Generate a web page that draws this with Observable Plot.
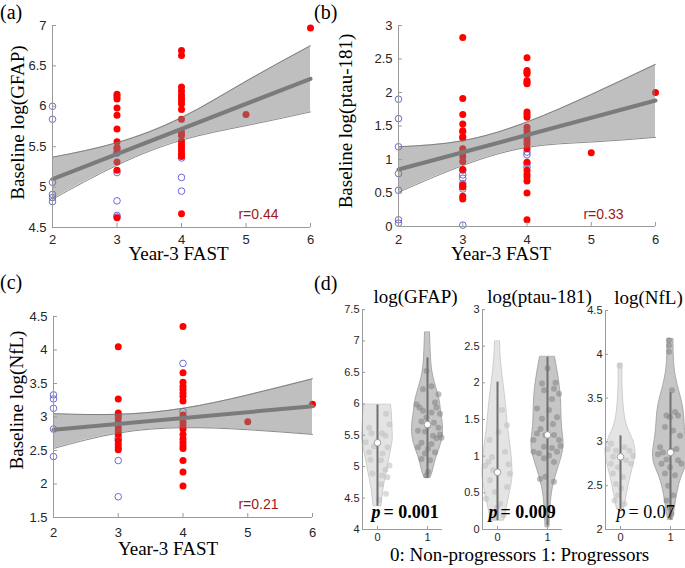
<!DOCTYPE html>
<html><head><meta charset="utf-8">
<script src="https://cdn.jsdelivr.net/npm/d3@7"></script>
<script src="https://cdn.jsdelivr.net/npm/@observablehq/plot@0.6"></script>
<style>
html,body{margin:0;padding:0;background:#fff}
#root{position:relative;width:685px;height:568px;overflow:hidden;background:#fff}
#root svg{position:absolute}
.lbl{position:absolute;font-family:"Liberation Serif",serif;color:#000;white-space:nowrap;line-height:1}
</style></head><body><div id="root"></div>
<script>
// ---------- shared ----------
const fastTicks = [2, 3, 4, 5, 6];
const fastDomain = [2, 6];
const xLabel = "Year-3 FAST";
const bandX = [2, 3, 4, 5, 6];
const fitX = [2, 6];

// ---------- (a) GFAP ----------
const gfapNon2 = [6.0, 5.84, 5.06, 4.91, 4.87, 4.82];
const gfapNon3 = [5.42, 5.18, 4.83, 4.65, 4.63];
const gfapNon4 = [5.36, 5.12, 4.95];
const gfapProg3 = [6.15, 6.12, 6.09, 5.98, 5.89, 5.72, 5.56, 5.49, 5.47, 5.43, 5.31, 5.21, 4.62];
const gfapProg4 = [6.69, 6.63, 6.24, 6.19, 6.14, 6.10, 6.07, 6.03, 5.96, 5.84, 5.68, 5.64, 5.57, 5.53, 5.49, 5.45, 5.41, 5.38, 4.67];
const gfapProg5 = [5.9];
const gfapProg6 = [6.97];
const gfapFit = [5.10, 6.34];
const gfapBandLo = [4.85, 5.27, 5.58, 5.76, 5.93];
const gfapBandHi = [5.37, 5.55, 5.86, 6.31, 6.75];
const gfapYTicks = [4.5, 5, 5.5, 6, 6.5, 7];

// ---------- (b) ptau-181 ----------
const ptauNon2 = [1.90, 1.61, 1.19, 0.79, 0.54, 0.10, 0.05];
const ptauNon3 = [1.41, 0.84, 0.77, 0.72, 0.64, 0.60, 0.56, 0.02];
const ptauNon4 = [1.11, 1.07, 0.94, 0.89];
const ptauProg3 = [2.82, 1.91, 1.67, 1.53, 1.43, 1.34, 1.32, 1.16, 1.11, 1.04, 0.97, 0.85, 0.62, 0.59, 0.45, 0.41];
const ptauProg4 = [2.52, 2.33, 2.30, 2.28, 2.18, 2.15, 2.13, 1.71, 1.67, 1.63, 1.48, 1.43, 1.38, 1.33, 1.28, 1.23, 1.16, 0.96, 0.84, 0.78, 0.74, 0.68, 0.50, 0.10];
const ptauProg5 = [1.1];
const ptauProg6 = [2.0];
const ptauFit = [0.85, 1.88];
const ptauBandLo = [0.51, 0.91, 1.18, 1.26, 1.33];
const ptauBandHi = [1.19, 1.28, 1.56, 1.97, 2.42];
const ptauYTicks = [0, 0.5, 1, 1.5, 2, 2.5, 3];

// ---------- (c) NfL ----------
const nflNon2 = [3.33, 3.27, 3.13, 2.82, 2.41];
const nflNon3 = [2.69, 2.66, 2.35, 1.81];
const nflNon4 = [3.80, 3.08];
const nflProg3 = [4.05, 3.27, 3.06, 3.02, 2.98, 2.92, 2.84, 2.79, 2.74, 2.64, 2.59, 2.54, 2.51];
const nflProg4 = [4.35, 3.66, 3.52, 3.46, 3.41, 3.36, 3.31, 3.24, 3.03, 2.92, 2.87, 2.82, 2.74, 2.67, 2.62, 2.57, 2.53, 2.35, 2.18, 1.97];
const nflProg5 = [2.93];
const nflProg6 = [3.19];
const nflFit = [2.81, 3.16];
const nflBandLo = [2.53, 2.76, 2.84, 2.81, 2.74];
const nflBandHi = [3.05, 3.04, 3.13, 3.33, 3.57];
const nflYTicks = [1.5, 2, 2.5, 3, 3.5, 4, 4.5];

// ---------- (d) violins ----------
const groupTicks = [0, 1];
const groupDomain = [-0.3, 1.3];
const gfapV0Y = [5.98, 5.8, 5.6, 5.4, 5.15, 4.9, 4.65, 4.37];
const gfapV0W = [0.27, 0.29, 0.30, 0.30, 0.24, 0.18, 0.12, 0.08];
const gfapV1Y = [7.13, 6.73, 6.42, 6.10, 5.89, 5.62, 5.36, 5.15, 4.94, 4.82];
const gfapV1W = [0.05, 0.07, 0.12, 0.23, 0.27, 0.31, 0.27, 0.18, 0.11, 0.06];
const gfapD0 = [5.84, 5.67, 5.62, 5.53, 5.53, 5.49, 5.39, 5.32, 5.31, 5.23, 5.21, 5.11, 5.10, 5.02, 4.95, 4.89, 4.86, 4.83, 4.72, 4.57, 4.47];
const gfapJ0 = [0.17, 0.24, -0.17, -0.12, 0.09, 0.16, -0.24, -0.07, 0.20, -0.17, 0.10, -0.14, 0.07, 0.24, 0.16, -0.10, 0.09, 0.20, 0.07, 0.17, 0.03];
const gfapD1 = [6.52, 6.28, 6.23, 6.15, 5.99, 6.02, 5.94, 5.94, 5.89, 5.86, 5.84, 5.78, 5.72, 5.70, 5.65, 5.62, 5.57, 5.56, 5.51, 5.49, 5.46, 5.45, 5.38, 5.36, 5.31, 5.28, 5.23, 5.21, 5.12, 5.10, 4.92, 4.86];
const gfapJ1 = [-0.02, 0.08, -0.09, 0.22, -0.22, 0.15, -0.16, 0.18, -0.09, 0.08, 0.25, -0.02, -0.12, 0.13, 0.01, 0.22, -0.19, -0.05, 0.25, 0.11, 0.28, 0.18, -0.12, 0.08, -0.19, 0.01, 0.15, -0.05, -0.12, 0.05, 0.01, -0.02];
const gfapStats = {med: [5.38, 5.67], lo: [4.37, 4.82], hi: [5.98, 6.73]};

const ptauV0Y = [2.56, 2.22, 1.76, 1.40, 1.08, 0.78, 0.58, 0.35, 0.12];
const ptauV0W = [0.05, 0.08, 0.16, 0.21, 0.27, 0.30, 0.27, 0.20, 0.13];
const ptauV1Y = [2.35, 2.08, 1.76, 1.40, 1.13, 0.85, 0.58, 0.31, 0.03];
const ptauV1W = [0.15, 0.22, 0.27, 0.29, 0.32, 0.22, 0.11, 0.06, 0.04];
const ptauD0 = [1.63, 1.42, 1.33, 1.22, 1.06, 0.99, 0.92, 0.87, 0.89, 0.81, 0.76, 0.67, 0.58, 0.51, 0.42, 0.35, 0.30, 0.19, 0.17];
const ptauJ0 = [0.09, 0.19, 0.02, -0.16, 0.15, -0.11, -0.18, -0.25, 0.22, -0.09, 0.25, -0.15, 0.19, -0.05, -0.23, 0.05, -0.01, 0.12, -0.08];
const ptauD1 = [2.20, 1.99, 2.00, 1.92, 1.90, 1.85, 1.78, 1.65, 1.63, 1.53, 1.51, 1.44, 1.37, 1.31, 1.29, 1.29, 1.22, 1.22, 1.13, 1.11, 1.14, 1.06, 1.04, 1.01, 1.06, 0.97, 0.92, 0.72, 0.69, 0.65];
const ptauJ1 = [0.0, -0.11, 0.16, 0.13, -0.07, 0.23, 0.09, -0.21, 0.03, 0.19, -0.11, 0.11, -0.14, -0.21, -0.04, 0.13, 0.23, -0.28, -0.07, 0.09, 0.26, -0.28, -0.17, 0.03, 0.19, -0.07, 0.13, -0.04, -0.15, 0.13];
const ptauStats = {med: [0.78, 1.29], lo: [0.12, 0.05], hi: [2.01, 2.35]};

const nflV0Y = [3.89, 3.63, 3.28, 3.09, 2.94, 2.79, 2.60, 2.41, 2.23];
const nflV0W = [0.04, 0.04, 0.09, 0.20, 0.29, 0.28, 0.20, 0.13, 0.07];
const nflV1Y = [4.17, 3.85, 3.59, 3.36, 3.09, 2.83, 2.64, 2.45, 2.22, 2.11];
const nflV1W = [0.06, 0.08, 0.17, 0.26, 0.30, 0.35, 0.25, 0.15, 0.08, 0.05];
const nflD0 = [3.87, 2.98, 2.92, 2.90, 2.94, 2.90, 2.84, 2.83, 2.79, 2.75, 2.71, 2.75, 2.64, 2.60, 2.52, 2.47, 2.39, 2.33, 2.29];
const nflJ0 = [-0.02, -0.19, -0.26, -0.09, 0.08, 0.18, 0.25, -0.15, 0.11, -0.19, -0.05, 0.21, -0.15, 0.05, -0.09, 0.01, -0.05, -0.12, 0.08];
const nflD1 = [4.16, 4.10, 4.03, 3.59, 3.34, 3.30, 3.28, 3.30, 3.17, 3.13, 3.07, 2.94, 2.88, 2.90, 2.92, 2.86, 2.80, 2.79, 2.75, 2.75, 2.71, 2.64, 2.62, 2.50, 2.39, 2.33, 2.24, 2.18];
const nflJ1 = [-0.03, -0.03, -0.03, 0.03, 0.09, -0.08, -0.01, 0.15, -0.11, 0.05, 0.19, -0.21, -0.15, 0.02, 0.12, -0.25, -0.08, 0.15, -0.18, 0.22, -0.01, -0.11, 0.09, -0.05, 0.05, -0.08, -0.01, 0.02];
const nflStats = {med: [2.83, 2.88], lo: [2.23, 2.11], hi: [3.07, 3.56]};

const violinTitles = ["log(GFAP)", "log(ptau-181)", "log(NfL)"];
const pValues = ["0.001", "0.009", "0.07"];
const pBold = [true, true, false];
const caption = "0: Non-progressors 1: Progressors";
const panelLetters = ["(a)", "(b)", "(c)", "(d)"];

// ---------- helpers ----------
const root = document.getElementById("root");
const AX = "#9a9a9a", TXT = "#262626";
const fmt = d => String(d);

function place(el, left, top) {
  el.style.left = left + "px"; el.style.top = top + "px";
  root.appendChild(el);
}
function pts(groups) {
  return groups.flatMap(([fast, vals]) => vals.map(v => ({fast, v})));
}

function scatter(o) {
  const band = bandX.map((x, i) => ({x, lo: o.lo[i], hi: o.hi[i]}));
  const fit = fitX.map((x, i) => ({x, y: o.fit[i]}));
  const chart = Plot.plot({
    width: o.width, height: o.height,
    marginLeft: o.m[0], marginRight: o.m[1], marginTop: o.m[2], marginBottom: o.m[3],
    x: {domain: fastDomain},
    y: {domain: o.yDomain},
    style: {fontFamily: "Liberation Sans", fontSize: "13px", color: TXT, background: "transparent", overflow: "visible"},
    marks: [
      Plot.dot(pts(o.non), {x: "fast", y: "v", r: 3.3, fill: "none", stroke: "#5b5bcf", strokeWidth: 0.9}),
      Plot.dot(pts(o.prog), {x: "fast", y: "v", r: 3.5, fill: "#ff0000"}),
      Plot.areaY(band, {x: "x", y1: "lo", y2: "hi", fill: "#808080", fillOpacity: 0.5, curve: "natural"}),
      Plot.line(band, {x: "x", y: "hi", stroke: "#6e6e6e", strokeWidth: 0.8, curve: "natural"}),
      Plot.line(band, {x: "x", y: "lo", stroke: "#6e6e6e", strokeWidth: 0.8, curve: "natural"}),
      Plot.line(fit, {x: "x", y: "y", stroke: "#7b7b7b", strokeWidth: 4}),
      Plot.ruleX([fastDomain[0]], {stroke: AX}),
      Plot.ruleY([o.yDomain[0]], {stroke: AX}),
      Plot.axisX(fastTicks, {tickSize: -4, tickPadding: o.xPad, stroke: AX, fill: TXT, label: null, tickFormat: fmt}),
      Plot.axisY(o.yTicks, {tickSize: -4, tickPadding: 10, stroke: AX, fill: TXT, label: null, tickFormat: fmt}),
      Plot.text([xLabel], {text: d => d, frameAnchor: "bottom", dx: o.xl[0], dy: o.xl[1], fontFamily: "Liberation Serif", fontSize: 19, fill: "#000"}),
      Plot.text([o.ylabel], {text: d => d, frameAnchor: "left", textAnchor: "middle", rotate: -90, dx: o.yl[0], dy: o.yl[1], fontFamily: "Liberation Serif", fontSize: 19, fill: "#000"}),
      Plot.text([o.r], {text: d => d, frameAnchor: "bottom-right", textAnchor: "end", dx: o.rp[0], dy: o.rp[1], fontSize: 14, fill: "#a01818"})
    ]
  });
  place(chart, o.left, o.top);
}

function violin(o) {
  const shape = (Y, W, g) => Y.map((y, i) => ({y, x1: g - W[i], x2: g + W[i]}));
  const dots = (D, J, g) => D.map((v, i) => ({v, x: g + J[i]}));
  const stats = groupTicks.map((g, i) => ({g, med: o.stats.med[i], lo: o.stats.lo[i], hi: o.stats.hi[i]}));
  const chart = Plot.plot({
    width: o.width, height: 283,
    marginLeft: 32, marginRight: o.width - 112, marginTop: o.mt, marginBottom: 39,
    x: {domain: groupDomain},
    y: {domain: o.yDomain},
    style: {fontFamily: "Liberation Sans", fontSize: "11px", color: TXT, background: "transparent", overflow: "visible"},
    marks: [
      Plot.areaX(shape(o.v0y, o.v0w, 0), {y: "y", x1: "x1", x2: "x2", fill: "#e4e4e4", stroke: "#c4c4c4", strokeWidth: 0.8, curve: "natural"}),
      Plot.areaX(shape(o.v1y, o.v1w, 1), {y: "y", x1: "x1", x2: "x2", fill: "#c6c6c6", stroke: "#9c9c9c", strokeWidth: 0.8, curve: "natural"}),
      Plot.dot(dots(o.d0, o.j0, 0), {x: "x", y: "v", r: 3, fill: "#c2c2c2", fillOpacity: 0.6}),
      Plot.dot(dots(o.d1, o.j1, 1), {x: "x", y: "v", r: 3, fill: "#7c7c7c", fillOpacity: 0.5}),
      Plot.ruleX(stats, {x: "g", y1: "lo", y2: "hi", stroke: "#707070", strokeWidth: 2}),
      Plot.dot(stats, {x: "g", y: "med", r: 3.3, fill: "#fff", stroke: "#8a8a8a", strokeWidth: 0.8}),
      Plot.ruleX([groupDomain[0]], {stroke: AX}),
      Plot.ruleY([o.yDomain[0]], {stroke: AX}),
      Plot.axisX(groupTicks, {tickSize: -3, tickPadding: 7, stroke: AX, fill: TXT, label: null, tickFormat: fmt}),
      Plot.axisY(o.yTicks, {tickSize: -3, tickPadding: 6, stroke: AX, fill: TXT, label: null, tickFormat: fmt}),
      Plot.text([o.title], {text: d => d, frameAnchor: "top", dx: o.tdx, dy: -20, fontFamily: "Liberation Serif", fontSize: 19, fill: "#000"}),
      Plot.text(["p"], {text: d => d, frameAnchor: "bottom-left", textAnchor: "end", dx: o.pdx, dy: -12, fontFamily: "Liberation Serif", fontSize: 18, fontStyle: "italic", fontWeight: o.bold ? "bold" : "normal", fill: "#000"}),
      Plot.text([o.p], {text: d => "= " + d, frameAnchor: "bottom-left", textAnchor: "start", dx: o.pdx + 3, dy: -12, fontFamily: "Liberation Serif", fontSize: 18, fontWeight: o.bold ? "bold" : "normal", fill: "#000"})
    ]
  });
  place(chart, o.left, 285);
}

// ---------- draw ----------
scatter({left: 0, top: 0, width: 330, height: 290, m: [52, 20, 25, 63], yDomain: [4.5, 7], yTicks: gfapYTicks,
  non: [[2, gfapNon2], [3, gfapNon3], [4, gfapNon4]],
  prog: [[3, gfapProg3], [4, gfapProg4], [5, gfapProg5], [6, gfapProg6]],
  fit: gfapFit, lo: gfapBandLo, hi: gfapBandHi, ylabel: "Baseline log(GFAP)", r: "r=0.44",
  xPad: 11, xl: [-3, 32], yl: [-35, -4], rp: [-32, -9]});

scatter({left: 330, top: 0, width: 355, height: 290, m: [68, 30, 25, 64], yDomain: [0, 3], yTicks: ptauYTicks,
  non: [[2, ptauNon2], [3, ptauNon3], [4, ptauNon4]],
  prog: [[3, ptauProg3], [4, ptauProg4], [5, ptauProg5], [6, ptauProg6]],
  fit: ptauFit, lo: ptauBandLo, hi: ptauBandHi, ylabel: "Baseline log(ptau-181)", r: "r=0.33",
  xPad: 12, xl: [-26, 33], yl: [-53, -5], rp: [-32, -8]});

scatter({left: 0, top: 285, width: 330, height: 283, m: [53, 18, 31, 51], yDomain: [1.5, 4.5], yTicks: nflYTicks,
  non: [[2, nflNon2], [3, nflNon3], [4, nflNon4]],
  prog: [[3, nflProg3], [4, nflProg4], [5, nflProg5], [6, nflProg6]],
  fit: nflFit, lo: nflBandLo, hi: nflBandHi, ylabel: "Baseline log(NfL)", r: "r=0.21",
  xPad: 14, xl: [-15, 37], yl: [-37, -17], rp: [-34, -9]});

violin({left: 330, width: 120, mt: 24, yDomain: [4, 7.5], yTicks: [4, 4.5, 5, 5.5, 6, 6.5, 7, 7.5],
  v0y: gfapV0Y, v0w: gfapV0W, v1y: gfapV1Y, v1w: gfapV1W, d0: gfapD0, j0: gfapJ0, d1: gfapD1, j1: gfapJ1,
  stats: gfapStats, title: violinTitles[0], tdx: 13, p: pValues[0], bold: pBold[0], pdx: 18});
violin({left: 450, width: 120, mt: 24, yDomain: [0, 3], yTicks: [0, 0.5, 1, 1.5, 2, 2.5, 3],
  v0y: ptauV0Y, v0w: ptauV0W, v1y: ptauV1Y, v1w: ptauV1W, d0: ptauD0, j0: ptauJ0, d1: ptauD1, j1: ptauJ1,
  stats: ptauStats, title: violinTitles[1], tdx: 17, p: pValues[1], bold: pBold[1], pdx: 15});
violin({left: 573, width: 112, mt: 25, yDomain: [2, 4.5], yTicks: [2, 2.5, 3, 3.5, 4, 4.5],
  v0y: nflV0Y, v0w: nflV0W, v1y: nflV1Y, v1w: nflV1W, d0: nflD0, j0: nflJ0, d1: nflD1, j1: nflJ1,
  stats: nflStats, title: violinTitles[2], tdx: 3, p: pValues[2], bold: pBold[2], pdx: 20});

// panel letters and caption
const letterPos = [[0, 2], [314, 2], [0, 272], [314, 273]];
panelLetters.forEach((t, i) => {
  const d = document.createElement("div");
  d.className = "lbl"; d.style.fontSize = "20px"; d.textContent = t;
  place(d, letterPos[i][0], letterPos[i][1]);
});
const cap = document.createElement("div");
cap.className = "lbl"; cap.style.fontSize = "19px"; cap.textContent = caption;
place(cap, 390, 545);
</script>
</body></html>
